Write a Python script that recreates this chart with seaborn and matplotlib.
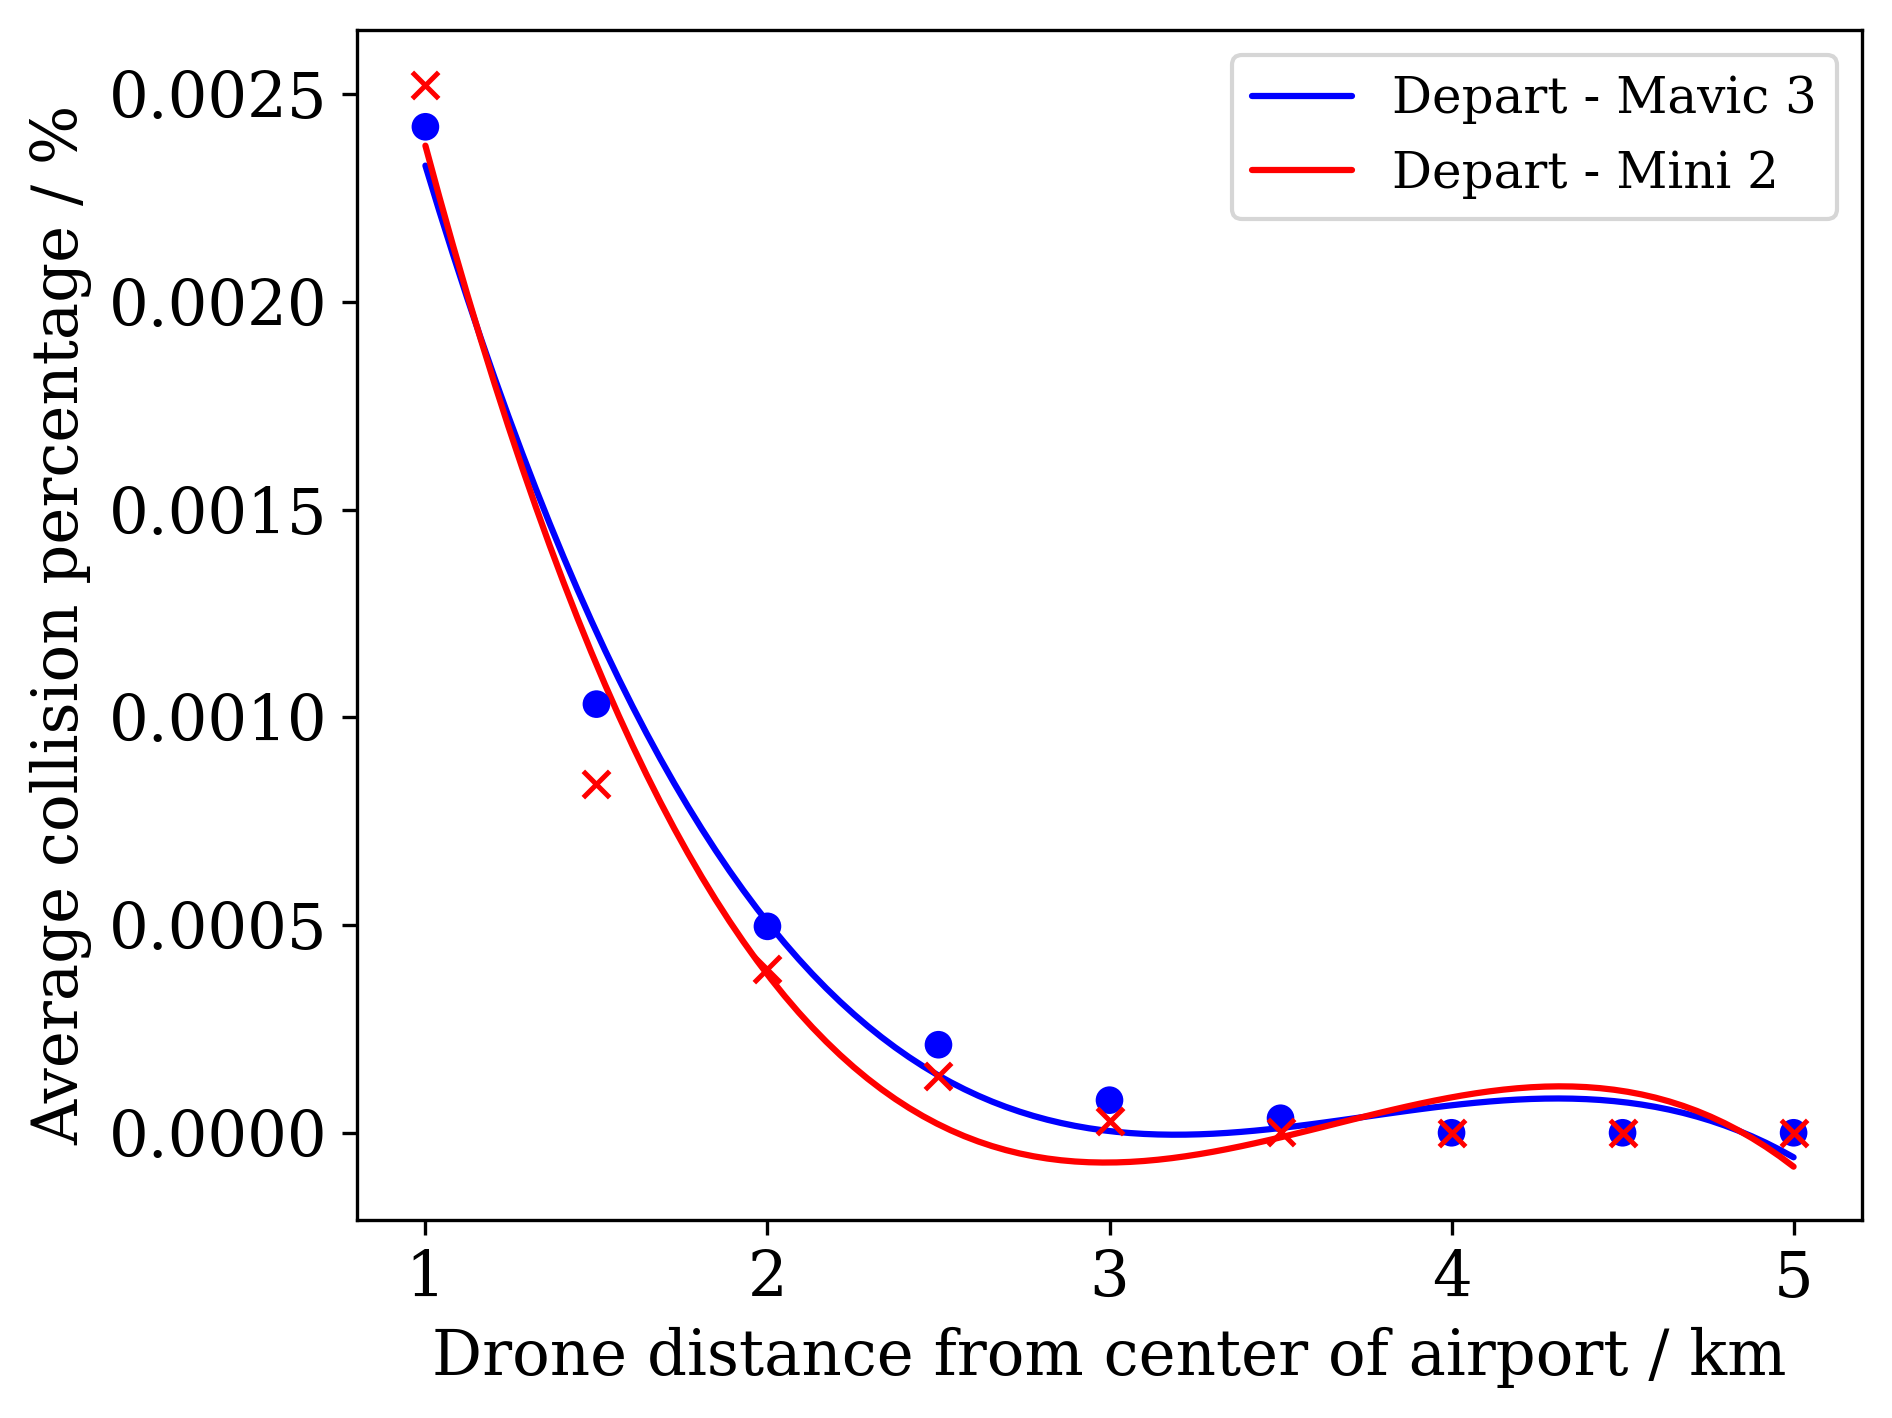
import numpy as np
import pandas as pd
import matplotlib
matplotlib.use("Agg")
import matplotlib.pyplot as plt
import seaborn as sns

distance_km = [1.0, 1.5, 2.0, 2.5, 3.0, 3.5, 4.0, 4.5, 5.0]
mavic3 = [0.002422, 0.001032, 0.000497, 0.000212, 0.0000785, 0.000035, 0.0, 0.0, 0.0]
mini2 = [0.002523, 0.000840, 0.000395, 0.000137, 0.000029, 0.000003, 0.0, 0.0, 0.0]

sns.set_style("ticks")
plt.rcParams["font.family"] = ["DejaVu Serif"]
plt.rcParams["mathtext.fontset"] = "dejavuserif"
for k in ["text.color", "axes.labelcolor", "xtick.color", "ytick.color", "axes.edgecolor"]:
    plt.rcParams[k] = "black"

fig = plt.figure(figsize=(1892 / 300, 1418 / 300), dpi=300)
ax = fig.add_axes([357 / 1892, 1 - 1220 / 1418, 1505 / 1892, 1190 / 1418])

df = pd.DataFrame({"x": distance_km, "mavic": mavic3, "mini": mini2})

sns.regplot(data=df, x="x", y="mavic", order=3, ci=None, scatter=False, ax=ax,
            color="blue", label="Depart - Mavic 3", line_kws={"lw": 1.5})
sns.regplot(data=df, x="x", y="mini", order=3, ci=None, scatter=False, ax=ax,
            color="red", label="Depart - Mini 2", line_kws={"lw": 1.5})
sns.scatterplot(data=df, x="x", y="mavic", marker="o", color="blue", s=44,
                edgecolor="none", ax=ax, zorder=3)
sns.scatterplot(data=df, x="x", y="mini", marker="x", color="red", s=40,
                linewidth=1.2, ax=ax, zorder=4)

ax.set_xlim(0.8, 5.2)
ax.set_ylim(-0.00021, 0.002655)
ax.set_xticks([1, 2, 3, 4, 5])
ax.set_yticks([0.0, 0.0005, 0.0010, 0.0015, 0.0020, 0.0025])
ax.set_yticklabels(["0.0000", "0.0005", "0.0010", "0.0015", "0.0020", "0.0025"])
ax.tick_params(labelsize=15, width=0.8, length=3.5, colors="black")
for s in ax.spines.values():
    s.set_linewidth(0.8)
    s.set_visible(True)
    s.set_color("black")
ax.set_xlabel("Drone distance from center of airport / km", fontsize=15)
ax.set_ylabel("Average collision percentage / %", fontsize=15)
handles, labels = ax.get_legend_handles_labels()
keep = [(h, l) for h, l in zip(handles, labels) if l.startswith("Depart")]
ax.legend([h for h, _ in keep], [l for _, l in keep], loc="upper right", fontsize=12)

fig.savefig("out.png", dpi=300)
